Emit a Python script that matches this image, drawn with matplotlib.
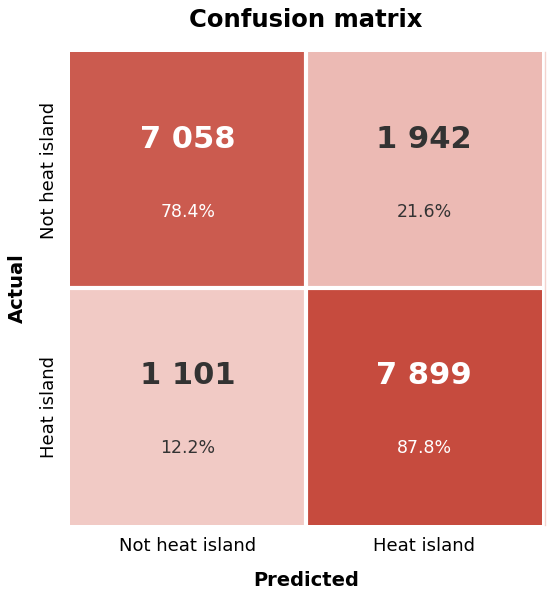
import matplotlib.pyplot as plt
import numpy as np
from matplotlib.colors import LinearSegmentedColormap
from matplotlib.lines import Line2D

labels = ["Not heat island", "Heat island"]
counts = np.array([[7058, 1942],
                   [1101, 7899]])
row_pct = counts / counts.sum(axis=1, keepdims=True) * 100

cmap = LinearSegmentedColormap.from_list("reds_soft", ["#F9DFDB", "#BF3729"])

fig = plt.figure(figsize=(5.5, 5.94), dpi=100)
ax = fig.add_axes([0.1273, 0.1162, 0.858, 0.7963])

ax.imshow(row_pct, cmap=cmap, vmin=0, vmax=100, aspect="auto",
          extent=(0, 2, 2, 0), interpolation="nearest")
ax.axvline(1, color="white", lw=3)
ax.axhline(1, color="white", lw=3)
ax.set_xlim(0, 2)
ax.set_ylim(2, 0)

for i in range(2):
    for j in range(2):
        col = "white" if row_pct[i, j] > 50 else "#333333"
        txt = f"{counts[i, j]:,}".replace(",", " ")
        ax.text(j + 0.5, i + 0.37, txt, ha="center", va="center",
                fontsize=22, fontweight="bold", color=col)
        ax.text(j + 0.5, i + 0.675, f"{row_pct[i, j]:.1f}%", ha="center",
                va="center", fontsize=12.5, color=col)

ax.set_xticks([0.5, 1.5])
ax.set_xticklabels(labels, fontsize=13)
ax.set_yticks([0.5, 1.5])
ax.set_yticklabels(labels, fontsize=13, rotation=90, va="center")
ax.tick_params(length=0, pad=9)
for s in ax.spines.values():
    s.set_visible(False)

ax.set_xlabel("Predicted", fontsize=14, fontweight="bold", labelpad=11)
ax.set_ylabel("Actual", fontsize=14, fontweight="bold", labelpad=9)
ax.set_title("Confusion matrix", fontsize=17.5, fontweight="bold", pad=18)

# faint edge of a clipped colour bar at the right border
fig.add_artist(Line2D([544.5 / 550, 544.5 / 550], [0.1162, 0.9125],
                      color="#F4D3CE", lw=1))

fig.savefig("out.png", dpi=100)
